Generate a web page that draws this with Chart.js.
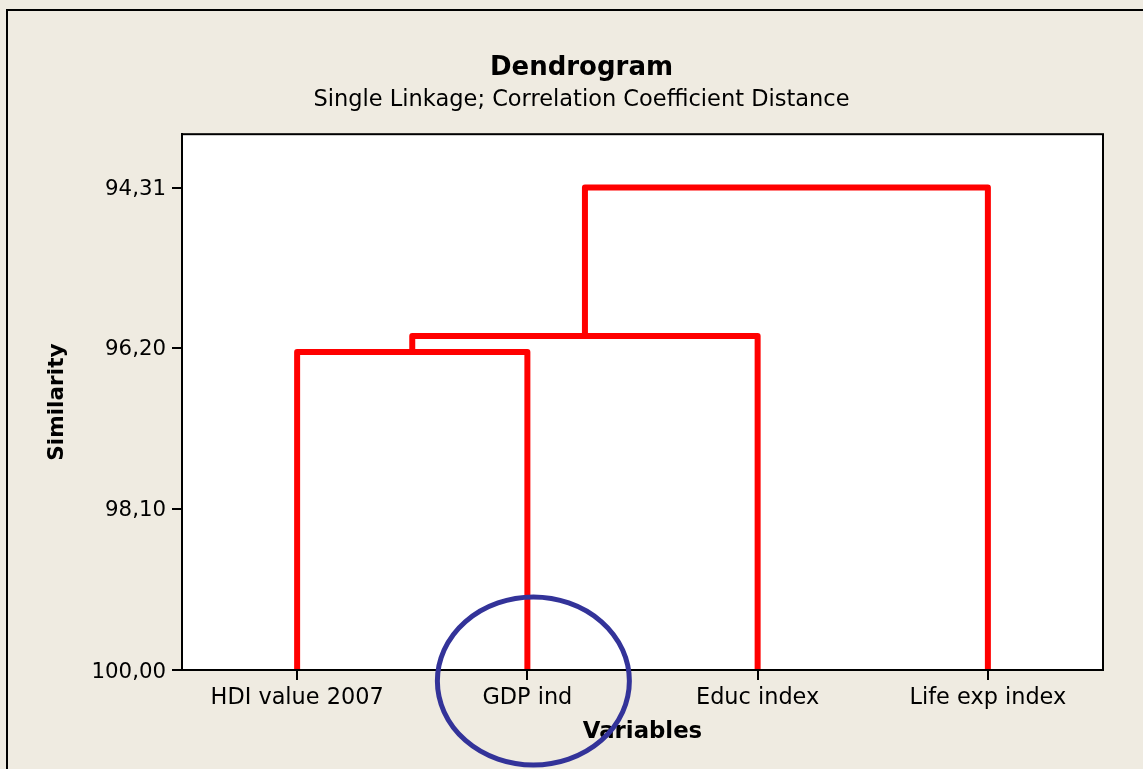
<!DOCTYPE html>
<html>
<head>
<meta charset="utf-8">
<script src="https://cdn.jsdelivr.net/npm/chart.js@4"></script>
<style>
  html, body { margin: 0; padding: 0; background: #efebe1; overflow: hidden; }
  #wrap { width: 1143px; height: 769px; }
</style>
</head>
<body>
<div id="wrap"><canvas id="dendro"></canvas></div>
<script>
const variables = ["HDI value 2007", "GDP ind", "Educ index", "Life exp index"];

// merge steps: clusters 0..3 are the variables, merge i makes cluster 4 + i
const mergeLeft = [0, 4, 5];
const mergeRight = [1, 2, 3];
const mergeLevel = [96.25, 96.06, 94.31];

const yTicks = [94.31, 96.20, 98.10, 100.00];

// build the link polylines
const pos = variables.map((v, i) => i);
const level = variables.map(() => 100);
const links = [];
mergeLevel.forEach((h, i) => {
  const a = mergeLeft[i], b = mergeRight[i];
  links.push([
    { x: pos[a], y: level[a] },
    { x: pos[a], y: h },
    { x: pos[b], y: h },
    { x: pos[b], y: level[b] }
  ]);
  pos.push((pos[a] + pos[b]) / 2);
  level.push(h);
});

const fontFamily = "'DejaVu Sans', Verdana, sans-serif";

const backdrop = {
  id: 'backdrop',
  afterLayout(chart) {
    // centre the titles over the whole figure frame, not the padded box
    chart.boxes.forEach(b => {
      if (!b.axis && b.options && b.options.text !== undefined) {
        b.left += 30;
        b.right += 30;
      }
    });
  },
  beforeDraw(chart) {
    const { ctx, chartArea: a } = chart;
    ctx.save();
    ctx.fillStyle = '#efebe1';
    ctx.fillRect(0, 0, chart.width, chart.height);
    ctx.strokeStyle = '#000';
    ctx.lineWidth = 2;
    ctx.strokeRect(7, 10, chart.width + 20, chart.height + 20);
    ctx.fillStyle = '#fff';
    ctx.fillRect(a.left, a.top, a.right - a.left, a.bottom - a.top);
    ctx.restore();
  },
  afterDraw(chart) {
    const { ctx, chartArea: a, scales } = chart;
    ctx.save();
    ctx.strokeStyle = '#000';
    ctx.lineWidth = 2;
    ctx.strokeRect(a.left, a.top, a.right - a.left, a.bottom - a.top);
    // hand-drawn circle around "GDP ind"
    const cx = scales.x.getPixelForValue(1) + 6;
    const cy = a.bottom + 11;
    ctx.strokeStyle = '#333399';
    ctx.lineWidth = 5;
    ctx.beginPath();
    ctx.ellipse(cx, cy, 96, 84, 0, 0, Math.PI * 2);
    ctx.stroke();
    ctx.restore();
  }
};

new Chart(document.getElementById('dendro'), {
  type: 'line',
  data: {
    datasets: links.map(pts => ({
      data: pts,
      borderColor: '#ff0000',
      borderWidth: 6,
      borderJoinStyle: 'round',
      pointRadius: 0,
      tension: 0,
      fill: false
    }))
  },
  options: {
    responsive: true,
    maintainAspectRatio: false,
    animation: false,
    layout: { padding: { left: 0, right: 40, top: 0, bottom: 0 } },
    plugins: {
      legend: { display: false },
      tooltip: { enabled: false },
      title: {
        display: true,
        text: 'Dendrogram',
        color: '#000',
        font: { family: fontFamily, size: 26, weight: 'bold', lineHeight: 1.2 },
        padding: { top: 53, bottom: 0 }
      },
      subtitle: {
        display: true,
        text: 'Single Linkage; Correlation Coefficient Distance',
        color: '#000',
        font: { family: fontFamily, size: 22.5, lineHeight: 1.2 },
        padding: { top: 2, bottom: 21 }
      }
    },
    scales: {
      x: {
        type: 'linear',
        min: -0.5,
        max: 3.5,
        afterBuildTicks: s => { s.ticks = variables.map((v, i) => ({ value: i })); },
        afterFit: s => { s.height = 99; },
        ticks: {
          color: '#000',
          font: { family: fontFamily, size: 22.4 },
          padding: 5,
          maxRotation: 0,
          autoSkip: false,
          callback: v => variables[v]
        },
        grid: { drawOnChartArea: false, color: '#000', lineWidth: 2, tickLength: 10 },
        border: { display: true, color: '#000', width: 2 },
        title: {
          display: true,
          text: 'Variables',
          color: '#000',
          font: { family: fontFamily, size: 22.8, weight: 'bold', lineHeight: 1.2 },
          padding: { top: 0, bottom: 23 }
        }
      },
      y: {
        type: 'linear',
        reverse: true,
        min: 93.68,
        max: 100,
        afterBuildTicks: s => { s.ticks = yTicks.map(v => ({ value: v })); },
        afterFit: s => { s.width = 182; },
        ticks: {
          color: '#000',
          font: { family: fontFamily, size: 21.3 },
          padding: 6,
          labelOffset: 2,
          autoSkip: false,
          callback: v => v.toFixed(2).replace('.', ',')
        },
        grid: { drawOnChartArea: false, color: '#000', lineWidth: 2, tickLength: 10 },
        border: { display: true, color: '#000', width: 2 },
        title: {
          display: true,
          text: 'Similarity',
          color: '#000',
          font: { family: fontFamily, size: 21.6, weight: 'bold', lineHeight: 1.2 },
          padding: { top: 44, bottom: 0 }
        }
      }
    }
  },
  plugins: [backdrop]
});
</script>
</body>
</html>
